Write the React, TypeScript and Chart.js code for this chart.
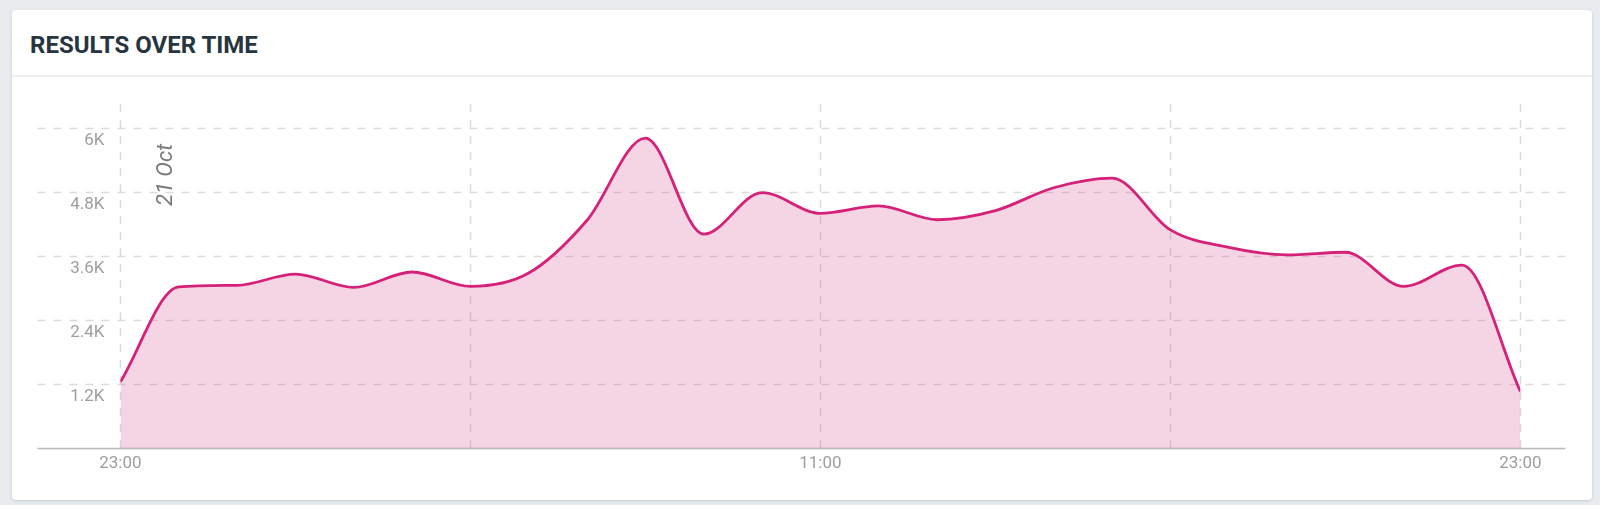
import { useEffect, useRef } from "react";
import { Chart, registerables } from "chart.js";

Chart.register(...registerables);

// Hours elapsed since 23:00 on 20 Oct (hourly samples)
const hours = [0, 1, 2, 3, 4, 5, 6, 7, 8, 9, 10, 11, 12, 13, 14, 15, 16, 17, 18, 19, 20, 21, 22, 23, 24];
const results = [
  1240, 3020, 3050, 3260, 3010, 3300, 3030, 3280, 4270, 5810, 4010, 4790, 4400,
  4540, 4280, 4450, 4880, 5060, 4090, 3760, 3620, 3670, 3030, 3430, 1060,
];
const yTickValues = [1200, 2400, 3600, 4800, 6000];
const yTickLabels = ["1.2K", "2.4K", "3.6K", "4.8K", "6K"];
const xTickValues = [0, 6, 12, 18, 24];
const xTickLabels = ["23:00", "", "11:00", "", "23:00"];
const dateMarker = "21 Oct";
const chartTitle = "RESULTS OVER TIME";

const GRID = "rgba(0,0,0,0.14)";

const gridPlugin = {
  id: "customGrid",
  beforeDatasetsDraw(chart: any) {
    const { ctx, chartArea, scales } = chart;
    const x = scales.x;
    const y = scales.y;
    ctx.save();
    ctx.lineWidth = 1.5;
    ctx.strokeStyle = GRID;
    ctx.setLineDash([8, 8]);
    const left = chartArea.left - 83;
    const right = chartArea.right + 45;
    yTickValues.forEach((v) => {
      const py = Math.round(y.getPixelForValue(v)) + 0.5;
      ctx.beginPath();
      ctx.moveTo(left, py);
      ctx.lineTo(right, py);
      ctx.stroke();
    });
    xTickValues.forEach((v) => {
      const px = Math.round(x.getPixelForValue(v)) + 0.5;
      ctx.beginPath();
      ctx.moveTo(px, chartArea.top);
      ctx.lineTo(px, chartArea.bottom);
      ctx.stroke();
    });
    ctx.restore();
  },
  afterDatasetsDraw(chart: any) {
    const { ctx, chartArea, scales } = chart;
    const x = scales.x;
    const y = scales.y;
    ctx.save();
    // baseline
    ctx.strokeStyle = "rgba(0,0,0,0.28)";
    ctx.lineWidth = 1.5;
    const by = Math.round(y.getPixelForValue(0)) + 0.5;
    ctx.beginPath();
    ctx.moveTo(chartArea.left - 83, by);
    ctx.lineTo(chartArea.right + 45, by);
    ctx.stroke();
    // date marker
    ctx.translate(x.getPixelForValue(0) + 52, chartArea.top + 71);
    ctx.rotate(-Math.PI / 2);
    ctx.font = "italic 22px Roboto";
    ctx.fillStyle = "#7a7a7a";
    ctx.textAlign = "center";
    ctx.textBaseline = "alphabetic";
    ctx.fillText(dateMarker, 0, 0);
    ctx.restore();
  },
};

function ResultsChart() {
  const ref = useRef<HTMLCanvasElement | null>(null);
  useEffect(() => {
    if (!ref.current) return;
    const chart = new Chart(ref.current, {
      type: "line",
      data: {
        datasets: [
          {
            label: "Results",
            data: hours.map((h, i) => ({ x: h, y: results[i] })),
            borderColor: "#d6217a",
            backgroundColor: "rgba(215,83,147,0.25)",
            borderWidth: 2.8,
            pointRadius: 0,
            fill: "origin",
            cubicInterpolationMode: "monotone",
          },
        ],
      },
      options: {
        animation: false,
        responsive: false,
        maintainAspectRatio: false,
        layout: { padding: { left: 28.4, right: 71.6, top: 27, bottom: 12 } },
        plugins: { legend: { display: false }, tooltip: { enabled: false } },
        scales: {
          x: {
            type: "linear",
            min: 0,
            max: 24,
            grid: { display: false, drawTicks: false },
            border: { display: false },
            afterBuildTicks: (s: any) => {
              s.ticks = xTickValues.map((v) => ({ value: v }));
            },
            afterFit: (s: any) => {
              s.height = 40;
            },
            ticks: {
              autoSkip: false,
              maxRotation: 0,
              padding: 6,
              color: "#9e9e9e",
              font: { family: "Roboto", size: 17 },
              callback: (v: any) => {
                const i = xTickValues.indexOf(Number(v));
                return i >= 0 ? xTickLabels[i] : "";
              },
            },
          },
          y: {
            min: 0,
            max: 6450,
            grid: { display: false, drawTicks: false },
            border: { display: false },
            afterBuildTicks: (s: any) => {
              s.ticks = yTickValues.map((v) => ({ value: v }));
            },
            afterFit: (s: any) => {
              s.width = 80;
            },
            ticks: {
              padding: 16,
              labelOffset: 13,
              color: "#9e9e9e",
              font: { family: "Roboto", size: 17 },
              callback: (v: any) => {
                const i = yTickValues.indexOf(Number(v));
                return i >= 0 ? yTickLabels[i] : "";
              },
            },
          },
        },
      },
      plugins: [gridPlugin],
    });
    return () => chart.destroy();
  }, []);
  return (
    <canvas
      ref={ref}
      width={1580}
      height={423}
      style={{ position: "absolute", left: 0, top: 67, width: 1580, height: 423 }}
    />
  );
}

export default function App() {
  return (
    <div
      style={{
        position: "fixed",
        inset: 0,
        background: "#e9ecef",
        fontFamily: "Roboto, sans-serif",
      }}
    >
      <div
        style={{
          position: "absolute",
          left: 12,
          top: 10,
          width: 1580,
          height: 490,
          background: "#ffffff",
          borderRadius: 4,
          boxShadow: "0 1px 3px rgba(0,0,0,0.16)",
          overflow: "hidden",
        }}
      >
        <div
          style={{
            position: "absolute",
            left: 18,
            top: 22.5,
            fontSize: 24,
            lineHeight: "24px",
            fontWeight: 700,
            color: "#263540",
            letterSpacing: 0,
          }}
        >
          {chartTitle}
        </div>
        <div
          style={{
            position: "absolute",
            left: 0,
            right: 0,
            top: 65,
            height: 2,
            background: "#eceef0",
          }}
        />
        <ResultsChart />
      </div>
    </div>
  );
}
